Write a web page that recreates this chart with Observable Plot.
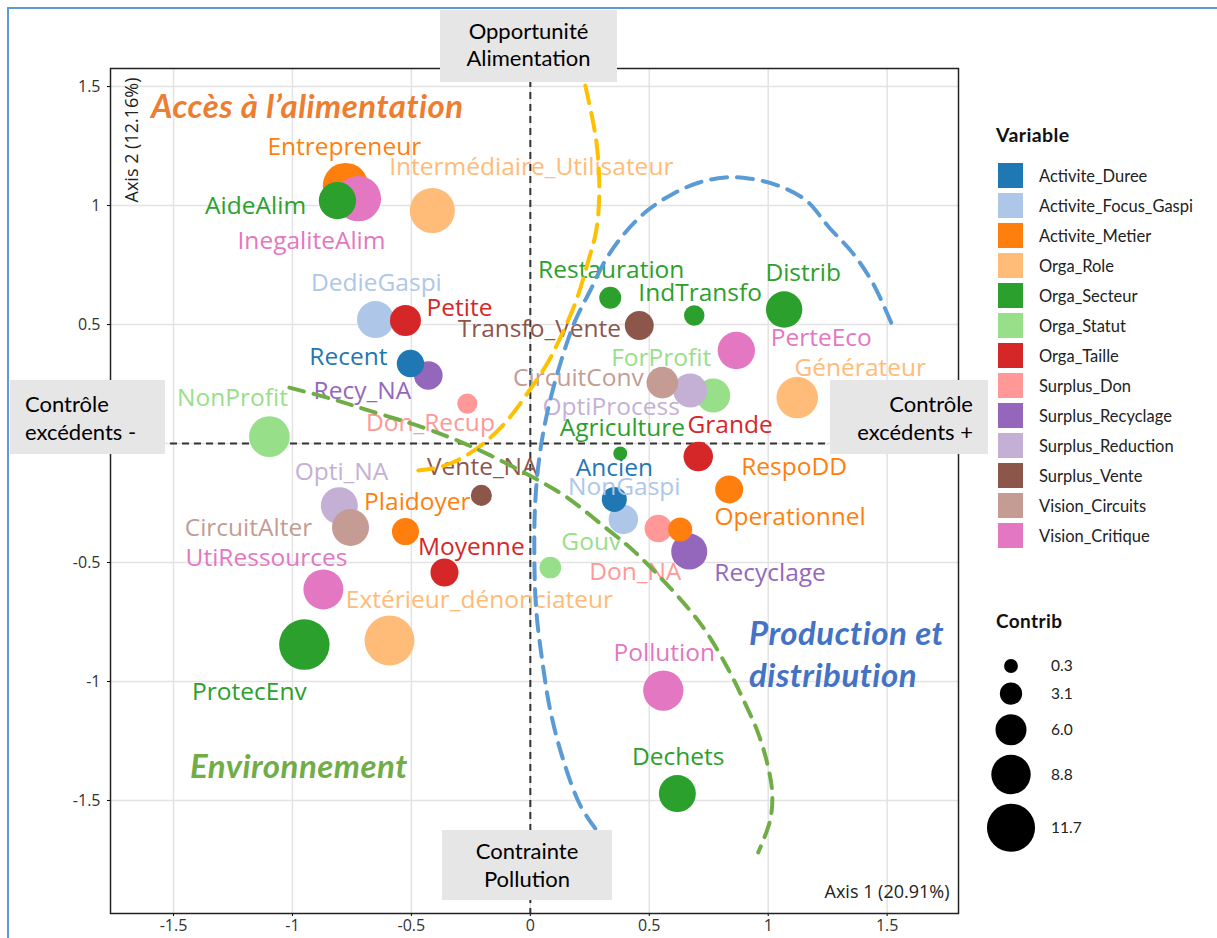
<!DOCTYPE html>
<html>
<head>
<meta charset="utf-8">
<script src="https://cdn.jsdelivr.net/npm/d3@7"></script>
<script src="https://cdn.jsdelivr.net/npm/@observablehq/plot@0.6"></script>
<style>
  html, body { margin: 0; padding: 0; background: #fff; overflow: hidden; }
  #wrap { position: relative; width: 1217px; height: 938px; font-family: "Open Sans", sans-serif; }
  #wrap > svg { position: absolute; left: 0; top: 0; }
  .ov { position: absolute; }
  .box { position: absolute; background: #e7e6e6; color: #000; font-family: Lato, "Open Sans", sans-serif; font-size: 22px; line-height: 28px; box-sizing: border-box; }
  .zone { position: absolute; font-family: Lato, "Open Sans", sans-serif; font-weight: bold; font-style: italic; white-space: nowrap; font-size: 33px; letter-spacing: 0.5px; }
  .leg { position: absolute; font-family: Lato, "Open Sans", sans-serif; color: #222; white-space: nowrap; }
</style>
</head>
<body>
<div id="wrap"></div>
<script>
// ---------- data ----------
const names = ["Entrepreneur","AideAlim","InegaliteAlim","Intermédiaire_Utilisateur","DedieGaspi","Petite","Recent","Recy_NA","NonProfit","Don_Recup","Restauration","IndTransfo","Distrib","Transfo_Vente","PerteEco","Générateur","ForProfit","CircuitConv","OptiProcess","Agriculture","Grande","Ancien","NonGaspi","RespoDD","Operationnel","Don_NA","Recyclage","Gouv","Vente_NA","Opti_NA","CircuitAlter","Plaidoyer","Moyenne","UtiRessources","Extérieur_dénonciateur","ProtecEnv","Pollution","Dechets"];
const groups = ["Activite_Metier","Orga_Secteur","Vision_Critique","Orga_Role","Activite_Focus_Gaspi","Orga_Taille","Activite_Duree","Surplus_Recyclage","Orga_Statut","Surplus_Don","Orga_Secteur","Orga_Secteur","Orga_Secteur","Surplus_Vente","Vision_Critique","Orga_Role","Orga_Statut","Vision_Circuits","Surplus_Reduction","Orga_Secteur","Orga_Taille","Activite_Duree","Activite_Focus_Gaspi","Activite_Metier","Activite_Metier","Surplus_Don","Surplus_Recyclage","Orga_Statut","Surplus_Vente","Surplus_Reduction","Vision_Circuits","Activite_Metier","Orga_Taille","Vision_Critique","Orga_Role","Orga_Secteur","Vision_Critique","Orga_Secteur"];
const dim1 = [-0.777,-0.811,-0.723,-0.412,-0.651,-0.525,-0.504,-0.429,-1.097,-0.265,0.336,0.689,1.067,0.458,0.866,1.122,0.769,0.555,0.672,0.378,0.706,0.353,0.391,0.836,0.630,0.538,0.668,0.084,-0.206,-0.803,-0.756,-0.525,-0.361,-0.870,-0.592,-0.950,0.559,0.618];
const dim2 = [1.084,1.021,1.029,0.979,0.521,0.517,0.336,0.286,0.029,0.168,0.613,0.538,0.563,0.496,0.391,0.193,0.202,0.256,0.223,-0.042,-0.055,-0.235,-0.319,-0.193,-0.361,-0.357,-0.454,-0.521,-0.218,-0.261,-0.353,-0.370,-0.542,-0.613,-0.828,-0.845,-1.038,-1.471];
const contrib = [10.8,8.1,10.8,10.7,8.0,6.0,4.8,5.2,9.2,2.4,3.0,2.5,7.8,5.3,8.1,9.5,7.0,6.2,7.0,0.3,5.5,4.0,5.5,5.0,3.7,4.8,7.7,2.9,2.7,8.0,8.0,4.7,5.0,9.0,12.3,12.5,9.1,8.0];
const labelX = [-0.782,-1.155,-0.920,0.004,-0.647,-0.298,-0.765,-0.706,-1.252,-0.420,0.340,0.714,1.147,0.038,1.223,1.387,0.550,0.202,0.340,0.387,0.840,0.353,0.395,1.109,1.092,0.441,1.008,0.256,-0.202,-0.794,-1.185,-0.475,-0.248,-1.109,-0.214,-1.181,0.563,0.622];
const labelY = [1.244,0.996,0.849,1.160,0.672,0.567,0.361,0.218,0.189,0.084,0.727,0.630,0.718,0.479,0.441,0.315,0.357,0.273,0.151,0.063,0.076,-0.105,-0.185,-0.101,-0.311,-0.542,-0.546,-0.416,-0.101,-0.122,-0.357,-0.248,-0.437,-0.483,-0.660,-1.046,-0.882,-1.319];

const variables = ["Activite_Duree","Activite_Focus_Gaspi","Activite_Metier","Orga_Role","Orga_Secteur","Orga_Statut","Orga_Taille","Surplus_Don","Surplus_Recyclage","Surplus_Reduction","Surplus_Vente","Vision_Circuits","Vision_Critique"];
const palette = ["#1f77b4","#aec7e8","#ff7f0e","#ffbb78","#2ca02c","#98df8a","#d62728","#ff9896","#9467bd","#c5b0d5","#8c564b","#c49c94","#e377c2"];

const xTicks = [-1.5,-1,-0.5,0,0.5,1,1.5];
const yTicks = [-1.5,-1,-0.5,0,0.5,1,1.5];
const sizeBreaks = [0.3,3.1,6.0,8.8,11.7];

// hand-drawn annotation curves (data units)
const yellowX = [0.231,0.277,0.290,0.277,0.244,0.193,0.134,0.071,-0.013,-0.097,-0.197,-0.307,-0.391,-0.471];
const yellowY = [1.504,1.273,1.063,0.895,0.769,0.601,0.462,0.336,0.210,0.097,0.000,-0.071,-0.101,-0.113];
const blueX = [1.517,1.441,1.357,1.256,1.160,1.042,0.924,0.819,0.710,0.601,0.492,0.395,0.315,0.252,0.189,0.130,0.076,0.042,0.021,0.017,0.025,0.050,0.084,0.139,0.210,0.273];
const blueY = [0.508,0.672,0.798,0.908,1.021,1.084,1.113,1.118,1.097,1.050,0.979,0.882,0.769,0.643,0.517,0.349,0.151,-0.029,-0.239,-0.492,-0.702,-0.912,-1.122,-1.332,-1.521,-1.618];
const greenX = [-1.013,-0.840,-0.681,-0.450,-0.286,-0.168,0.013,0.155,0.294,0.433,0.559,0.672,0.744,0.828,0.891,0.958,1.000,1.017,1.008,0.958];
const greenY = [0.235,0.189,0.139,0.067,0.004,-0.050,-0.143,-0.227,-0.336,-0.450,-0.576,-0.702,-0.798,-0.941,-1.067,-1.218,-1.361,-1.471,-1.584,-1.718];

// ---------- build ----------
const points = names.map((n, i) => ({name: n, variable: groups[i], x: dim1[i], y: dim2[i], contrib: contrib[i], lx: labelX[i], ly: labelY[i]}))
  .map((d, i) => ({...d, order: variables.indexOf(d.variable) * 100 + i}))
  .sort((a, b) => a.order - b.order);
const toCurve = (xs, ys) => xs.map((x, i) => ({x, y: ys[i]}));
const curves = [
  {pts: toCurve(yellowX, yellowY), color: "#ffc000", dash: "18,10"},
  {pts: toCurve(blueX, blueY), color: "#5b9bd5", dash: "16,10"},
  {pts: toCurve(greenX, greenY), color: "#70ad47", dash: "15,10"}
];

const fmt = d => `${d}`;
const chart = Plot.plot({
  width: 1217, height: 938,
  marginLeft: 110, marginRight: 259, marginTop: 68, marginBottom: 25,
  style: {fontFamily: "Open Sans, sans-serif", background: "transparent"},
  x: {domain: [-1.765, 1.8]},
  y: {domain: [-1.975, 1.576]},
  color: {domain: variables, range: palette},
  r: {type: "linear", domain: [0, 12], range: [6.5, 24.5]},
  marks: [
    Plot.gridX(xTicks, {stroke: "#e3e3e3", strokeOpacity: 1, strokeWidth: 1.5}),
    Plot.gridY(yTicks, {stroke: "#e3e3e3", strokeOpacity: 1, strokeWidth: 1.5}),
    Plot.axisX(xTicks, {tickFormat: fmt, tickSize: 3, tickPadding: 3, fontSize: 16, fill: "#333", label: null}),
    Plot.axisY(yTicks, {tickFormat: fmt, tickSize: 3, tickPadding: 7, fontSize: 16, fill: "#333", label: null}),
    Plot.ruleX([0], {stroke: "#333", strokeWidth: 2, strokeDasharray: "7,5"}),
    Plot.ruleY([0], {stroke: "#333", strokeWidth: 2, strokeDasharray: "7,5"}),
    Plot.dot(points, {x: "x", y: "y", r: "contrib", fill: "variable", stroke: "none"}),
    Plot.text(points, {x: "lx", y: "ly", text: "name", fill: "variable", fontSize: 24.5}),
    Plot.frame({stroke: "#222", strokeWidth: 1.5}),
    Plot.text(["Axis 2 (12.16%)"], {frameAnchor: "top-left", rotate: -90, textAnchor: "end", dx: 15, dy: 9, fontSize: 18, fill: "#222"}),
    Plot.text(["Axis 1 (20.91%)"], {frameAnchor: "bottom-right", textAnchor: "end", dx: -9, dy: -16, fontSize: 18, fill: "#222"}),
    ...curves.map(c => Plot.line(c.pts, {x: "x", y: "y", curve: "catmull-rom", stroke: c.color, strokeWidth: 4, strokeDasharray: c.dash}))
  ]
});
const wrap = document.getElementById("wrap");
wrap.appendChild(chart);

function el(tag, cls, style, html) {
  const e = document.createElement(tag);
  if (cls) e.className = cls;
  Object.assign(e.style, style);
  if (html != null) e.innerHTML = html;
  wrap.appendChild(e);
  return e;
}

// outer page border (left + top)
el("div", "ov", {left: "7px", top: "7px", width: "1210px", height: "931px", borderLeft: "2px solid #5b9bd5", borderTop: "2px solid #5b9bd5", boxSizing: "border-box"});

// grey annotation boxes
el("div", "box", {left: "440px", top: "10px", width: "177px", height: "72px", textAlign: "center", paddingTop: "7px", lineHeight: "27px"}, "Opportunité<br>Alimentation");
el("div", "box", {left: "10px", top: "380px", width: "155px", height: "74px", textAlign: "left", paddingTop: "10px", paddingLeft: "15px"}, "Contrôle<br>excédents -");
el("div", "box", {left: "830px", top: "380px", width: "158px", height: "74px", textAlign: "right", paddingTop: "10px", paddingRight: "15px"}, "Contrôle<br>excédents +");
el("div", "box", {left: "442px", top: "830px", width: "170px", height: "70px", textAlign: "center", paddingTop: "7px"}, "Contrainte<br>Pollution");

// zone titles
el("div", "zone", {left: "151px", top: "85px", color: "#ed7d31"}, "Accès à l’alimentation");
el("div", "zone", {left: "749px", top: "611px", lineHeight: "42px", color: "#4472c4"}, "Production et<br>distribution");
el("div", "zone", {left: "190px", top: "745px", color: "#70ad47"}, "Environnement");

// colour legend
el("div", "leg", {left: "996px", top: "123px", fontSize: "19.5px", fontWeight: "bold", color: "#111", letterSpacing: "0.4px"}, "Variable");
variables.forEach((v, i) => {
  const top = 163 + i * 30;
  el("div", "ov", {left: "998px", top: top + "px", width: "25px", height: "25px", background: palette[i]});
  el("div", "leg", {left: "1039px", top: top + "px", height: "25px", lineHeight: "27px", fontSize: "16.5px"}, v);
});

// size legend
el("div", "leg", {left: "996px", top: "609px", fontSize: "19px", fontWeight: "bold", color: "#111", letterSpacing: "0.4px"}, "Contrib");
const rScale = chart.scale("r");
const ns = "http://www.w3.org/2000/svg";
const ssvg = document.createElementNS(ns, "svg");
ssvg.setAttribute("width", 1217); ssvg.setAttribute("height", 938);
Object.assign(ssvg.style, {position: "absolute", left: 0, top: 0, pointerEvents: "none"});
wrap.appendChild(ssvg);
let cy = 666, prevR = null;
sizeBreaks.forEach((b, i) => {
  const r = rScale.apply(b);
  if (prevR != null) cy += prevR + r + 9.5;
  const c = document.createElementNS(ns, "circle");
  c.setAttribute("cx", 1011); c.setAttribute("cy", cy); c.setAttribute("r", r); c.setAttribute("fill", "#000");
  ssvg.appendChild(c);
  const t = document.createElementNS(ns, "text");
  t.setAttribute("x", 1051); t.setAttribute("y", cy); t.setAttribute("dy", "0.35em");
  t.setAttribute("font-size", 15.5); t.setAttribute("font-family", "Lato, Open Sans, sans-serif"); t.setAttribute("fill", "#222");
  t.textContent = b.toFixed(1);
  ssvg.appendChild(t);
  prevR = r;
});
</script>
</body>
</html>
